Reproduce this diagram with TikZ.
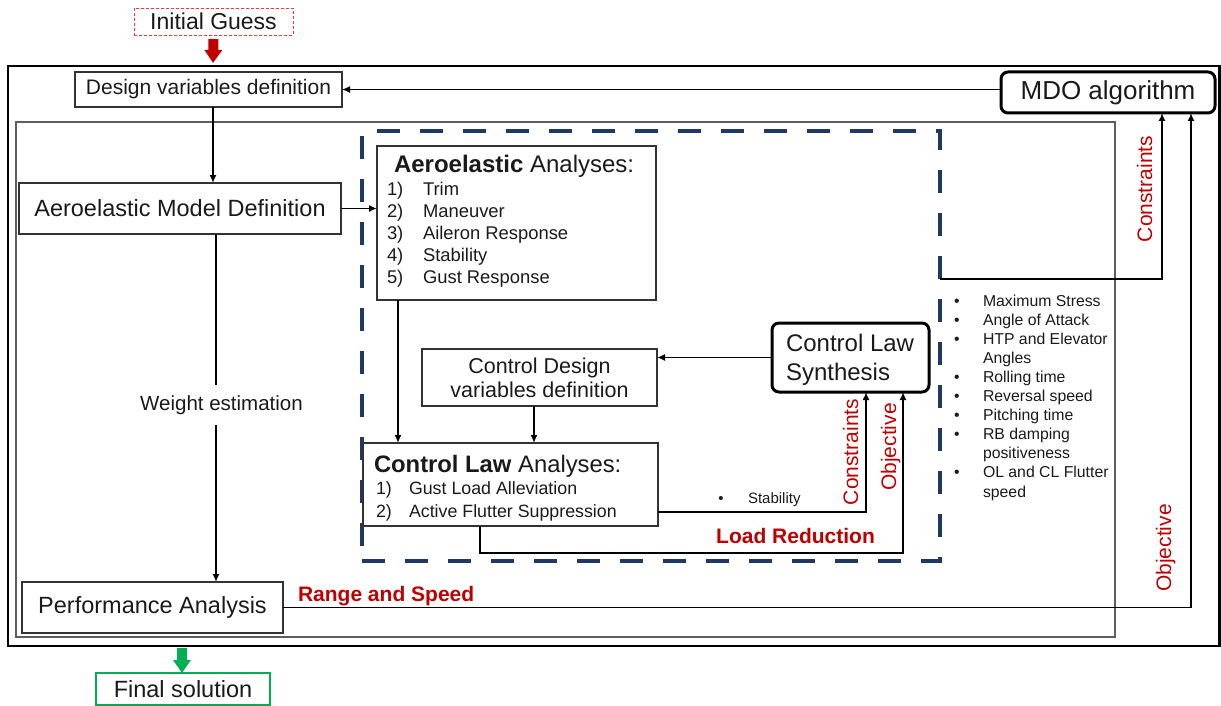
\documentclass[tikz,border=0pt]{standalone}
\usepackage{fontspec}
\setmainfont{Liberation Sans}
\usetikzlibrary{arrows.meta,calc}

\definecolor{ink}{HTML}{1A1A1A}
\definecolor{boxline}{HTML}{333333}
\definecolor{framegray}{HTML}{5E5E5E}
\definecolor{redtxt}{HTML}{C00000}
\definecolor{navy}{HTML}{203864}
\definecolor{okgreen}{HTML}{00B050}
\definecolor{guessred}{HTML}{FF3333}

\newcommand\setfs[2]{\fontsize{#1}{#2}\selectfont}

\begin{document}
\begin{tikzpicture}[x=1pt,y=-1pt,
  every node/.style={inner sep=0pt,outer sep=0pt,text=ink},
  procbox/.style={draw=boxline,line width=1.6pt,align=center},
  roundbox/.style={draw=black,line width=3pt,rounded corners=7pt,align=center},
  arr/.style={draw=black,line width=1.8pt,-{Latex[length=8pt,width=7pt]}},
  plain/.style={draw=black,line width=1.8pt},
  blockarrow/.style={line width=10pt,-{Triangle[length=13pt,width=17pt]}},
  redlbl/.style={text=redtxt,font=\setfs{21}{25}},
  boldred/.style={text=redtxt,font=\bfseries\setfs{21}{25}},
  itemtxt/.style={anchor=base west,font=\setfs{18.4}{22}},
  listtxt/.style={anchor=base west,font=\setfs{15.8}{19}}]

\useasboundingbox (0,0) rectangle (1221,706);

% frames of the optimisation loops
\draw[line width=2.2pt,black] (8,66) rectangle (1219.5,646);
\draw[line width=1.4pt,framegray] (16,122) rectangle (1115,637);
\node[draw=navy,line width=4pt,dash pattern=on 23pt off 20pt,
      minimum width=578pt,minimum height=430pt] (dbox) at (651,346) {};

% top and bottom terminals
\node[draw=guessred,line width=0.9pt,dash pattern=on 3pt off 2pt,
      minimum width=159pt,minimum height=27pt,font=\setfs{23}{27}] (ig) at (213.5,21.5) {Initial Guess};
\node[draw=okgreen,line width=2pt,minimum width=174pt,minimum height=32pt,
      font=\setfs{23.5}{28}] (fin) at (183,689) {Final solution};

% outer loop blocks
\node[procbox,minimum width=267pt,minimum height=35pt,font=\setfs{21}{25}] (dv) at (208.5,89.5) {Design variables definition};
\node[roundbox,minimum width=214pt,minimum height=41pt,font=\setfs{26}{30}] (mdo) at (1108,92.5) {MDO algorithm};
\node[procbox,minimum width=322pt,minimum height=51pt,font=\setfs{23.5}{28}] (amd) at (180,208.5) {Aeroelastic Model Definition};
\node[font=\setfs{20.5}{24},minimum height=40pt] (we) at (221.5,405) {Weight estimation};
\node[procbox,minimum width=261pt,minimum height=51pt,font=\setfs{23.5}{28}] (perf) at (152.5,607.5) {Performance Analysis};

% aeroelastic analyses
\node[procbox,minimum width=279pt,minimum height=154pt] (aa) at (516.5,223) {};
\node[anchor=base west,font=\setfs{24}{28}] (aat) at (394,172) {\textbf{Aeroelastic} Analyses:};
\foreach \t [count=\k] in {Trim,Maneuver,Aileron Response,Stability,Gust Response}{
  \node[itemtxt] (aan\k) at (387,195+22.2*\k-22.2) {\k)};
  \node[itemtxt] (aai\k) at (423,195+22.2*\k-22.2) {\t};
}

% control law blocks
\node[procbox,minimum width=235pt,minimum height=57pt,font=\setfs{21.5}{24}] (cdv) at (539.5,377.5) {Control Design\\variables definition};
\node[roundbox,minimum width=157pt,minimum height=69pt] (cls) at (850.5,357.5) {};
\node[anchor=base west,font=\setfs{24}{28}] (cls1) at (786,351.6) {Control Law};
\node[anchor=base west,font=\setfs{24}{28}] (cls2) at (786,380.6) {Synthesis};

\node[procbox,minimum width=295pt,minimum height=83pt] (cla) at (510.5,484.5) {};
\node[anchor=base west,font=\setfs{23.8}{28}] (clat) at (374,472.5) {\textbf{Control Law} Analyses:};
\foreach \t [count=\k] in {Gust Load Alleviation,Active Flutter Suppression}{
  \node[anchor=base west,font=\setfs{17.8}{21}] (clan\k) at (376,494.5+23*\k-23) {\k)};
  \node[anchor=base west,font=\setfs{17.8}{21}] (clai\k) at (409,494.5+23*\k-23) {\t};
}

% connectors of the outer loop
\draw[blockarrow,draw=redtxt] ($(ig.south)+(0,4)$) -- ($(ig.south)+(-0.5,28)$) coordinate (igtip);
\coordinate (gstart) at (182,648);
\draw[blockarrow,draw=okgreen] (gstart) -- ($(fin.north)+(-1,0)$);

\draw[arr] (mdo.west |- dv.east) -- (dv.east);
\coordinate (dvs) at ($(dv.south)+(4.5,0)$);
\draw[arr] (dvs) -- (dvs |- amd.north);
\draw[arr] (amd.east) -- (amd.east -| aa.west);
\coordinate (wc) at (216,0);
\draw[plain] (amd.south -| wc) -- (we.north -| wc);
\draw[arr] (we.south -| wc) -- (perf.north -| wc);
\draw[arr] ($(dbox.north east)+(0,148)$) -| ($(mdo.south)+(54,0)$);
\draw[arr] (perf.east) -| ($(mdo.south)+(83,0)$);

% connectors of the control loop
\coordinate (aad) at ($(aa.south west)+(21,0)$);
\draw[arr] (aad) -- (aad |- cla.north);
\coordinate (cdd) at ($(cdv.south)+(-5.5,0)$);
\draw[arr] (cdd) -- (cdd |- cla.north);
\draw[arr] (cls.west) -- (cls.west -| cdv.east);
\draw[arr] ($(cla.east)+(0,27.5)$) -| ($(cls.south)+(15.5,0)$);
\draw[arr] ($(cla.south west)+(117,0)$) -- ++(0,27) -| ($(cls.south)+(52.5,0)$);

% labels
\node[redlbl,rotate=90,anchor=base] (lc1) at (1152,189) {Constraints};
\node[redlbl,rotate=90,anchor=base] (lo1) at (1171,548) {Objective};
\node[redlbl,rotate=90,anchor=base] (lc2) at (858,452) {Constraints};
\node[redlbl,rotate=90,anchor=base] (lo2) at (896,447) {Objective};
\node[boldred] (lr) at (795.5,536) {Load Reduction};
\node[boldred,anchor=base west] (rs) at (298,601) {Range and Speed};
\node[anchor=base,font=\setfs{15}{18}] (sb) at (721,503.5) {•};
\node[anchor=base west,font=\setfs{15}{18}] (st) at (748,503.5) {Stability};

% constraint list
\foreach \t/\b [count=\k from 0] in {Maximum Stress/1,Angle of Attack/1,HTP and Elevator/1,Angles/0,Rolling time/1,Reversal speed/1,Pitching time/1,RB damping/1,positiveness/0,OL and CL Flutter/1,speed/0}{
  \node[listtxt] (lst\k) at (983,306+19.1*\k) {\t};
  \ifnum\b=1 \node[anchor=base,font=\setfs{15.8}{19}] (bul\k) at (957,306+19.1*\k) {•};\fi
}

\end{tikzpicture}
\end{document}
